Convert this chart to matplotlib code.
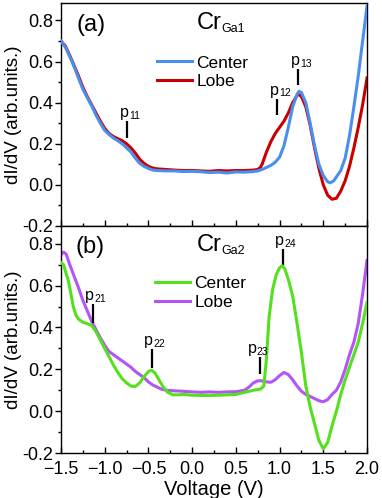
import numpy as np
import matplotlib
matplotlib.use("Agg")
import matplotlib.pyplot as plt
from matplotlib.ticker import MultipleLocator

plt.rcParams["font.family"] = ["Liberation Sans", "DejaVu Sans"]

# ---- panel (a): Cr_Ga1 ----
v_a_center = [-1.5, -1.45, -1.4, -1.35, -1.3, -1.25, -1.2, -1.15, -1.1, -1.05, -1.0, -0.95, -0.9,
              -0.85, -0.8, -0.75, -0.7, -0.65, -0.6, -0.55, -0.5, -0.45, -0.4, -0.3, -0.2, -0.1,
              0.0, 0.1, 0.2, 0.3, 0.4, 0.5, 0.6, 0.7, 0.75, 0.8, 0.85, 0.9, 0.95, 1.0, 1.05, 1.1,
              1.15, 1.2, 1.22, 1.25, 1.3, 1.35, 1.4, 1.45, 1.5, 1.55, 1.58, 1.62, 1.7, 1.75, 1.8,
              1.85, 1.9, 1.95, 2.0]
a_center = [0.70, 0.67, 0.625, 0.575, 0.52, 0.465, 0.425, 0.385, 0.34, 0.30, 0.265, 0.245, 0.228,
            0.215, 0.20, 0.18, 0.16, 0.13, 0.105, 0.09, 0.08, 0.072, 0.07, 0.068, 0.068, 0.065,
            0.066, 0.064, 0.06, 0.062, 0.058, 0.063, 0.062, 0.065, 0.068, 0.075, 0.085, 0.095,
            0.11, 0.135, 0.19, 0.28, 0.38, 0.44, 0.455, 0.45, 0.40, 0.30, 0.19, 0.10, 0.045,
            0.015, 0.01, 0.02, 0.07, 0.13, 0.24, 0.38, 0.53, 0.70, 0.87]

v_a_lobe = [-1.5, -1.45, -1.4, -1.35, -1.3, -1.25, -1.2, -1.15, -1.1, -1.05, -1.0, -0.95, -0.9,
            -0.85, -0.8, -0.75, -0.7, -0.65, -0.6, -0.55, -0.5, -0.45, -0.4, -0.3, -0.2, -0.1,
            0.0, 0.1, 0.2, 0.3, 0.4, 0.5, 0.6, 0.7, 0.75, 0.78, 0.8, 0.85, 0.9, 0.95, 1.0, 1.05,
            1.1, 1.15, 1.2, 1.22, 1.25, 1.3, 1.35, 1.4, 1.45, 1.5, 1.55, 1.6, 1.65, 1.7, 1.75,
            1.8, 1.85, 1.9, 1.95, 2.0]
a_lobe = [0.70, 0.675, 0.63, 0.58, 0.53, 0.475, 0.43, 0.39, 0.35, 0.31, 0.275, 0.25, 0.235,
          0.225, 0.215, 0.20, 0.18, 0.155, 0.125, 0.105, 0.09, 0.082, 0.078, 0.075, 0.072, 0.07,
          0.07, 0.068, 0.066, 0.07, 0.068, 0.07, 0.07, 0.072, 0.075, 0.085, 0.10, 0.16, 0.21,
          0.25, 0.28, 0.31, 0.35, 0.40, 0.435, 0.44, 0.43, 0.38, 0.29, 0.18, 0.08, 0.0, -0.05,
          -0.07, -0.065, -0.03, 0.02, 0.09, 0.18, 0.28, 0.39, 0.52]

# ---- panel (b): Cr_Ga2 ----
v_b_center = [-1.5, -1.47, -1.45, -1.42, -1.4, -1.36, -1.33, -1.3, -1.25, -1.2, -1.15, -1.1,
              -1.05, -1.0, -0.95, -0.9, -0.85, -0.8, -0.75, -0.7, -0.65, -0.6, -0.55, -0.5,
              -0.46, -0.42, -0.38, -0.33, -0.28, -0.22, -0.15, -0.1, 0.0, 0.1, 0.2, 0.3, 0.4,
              0.5, 0.6, 0.7, 0.78, 0.82, 0.85, 0.88, 0.92, 0.96, 1.0, 1.03, 1.06, 1.1, 1.15, 1.2,
              1.25, 1.3, 1.35, 1.4, 1.45, 1.5, 1.55, 1.6, 1.65, 1.7, 1.75, 1.8, 1.85, 1.9, 1.95,
              2.0]
b_center = [0.71, 0.70, 0.67, 0.63, 0.59, 0.50, 0.46, 0.44, 0.425, 0.418, 0.41, 0.38, 0.34,
            0.30, 0.26, 0.22, 0.185, 0.155, 0.135, 0.12, 0.118, 0.135, 0.165, 0.19, 0.195, 0.18,
            0.15, 0.115, 0.09, 0.078, 0.078, 0.08, 0.076, 0.075, 0.075, 0.076, 0.078, 0.08,
            0.09, 0.10, 0.105, 0.12, 0.25, 0.45, 0.58, 0.65, 0.685, 0.695, 0.68, 0.63, 0.55,
            0.42, 0.28, 0.12, 0.02, -0.06, -0.14, -0.18, -0.15, -0.07, 0.0, 0.08, 0.15, 0.21,
            0.27, 0.33, 0.42, 0.52]

v_b_lobe = [-1.5, -1.47, -1.44, -1.4, -1.35, -1.3, -1.25, -1.2, -1.15, -1.1, -1.05, -1.0, -0.95,
            -0.9, -0.85, -0.8, -0.75, -0.7, -0.65, -0.6, -0.55, -0.5, -0.45, -0.4, -0.35, -0.3,
            -0.2, -0.1, 0.0, 0.1, 0.2, 0.3, 0.4, 0.5, 0.6, 0.65, 0.7, 0.75, 0.8, 0.85, 0.9, 0.95,
            1.0, 1.05, 1.1, 1.15, 1.2, 1.25, 1.3, 1.35, 1.4, 1.45, 1.5, 1.55, 1.6, 1.65, 1.7,
            1.75, 1.8, 1.85, 1.9, 1.95, 2.0]
b_lobe = [0.75, 0.76, 0.75, 0.70, 0.645, 0.59, 0.53, 0.48, 0.43, 0.39, 0.35, 0.315, 0.285,
          0.27, 0.255, 0.24, 0.225, 0.21, 0.19, 0.175, 0.16, 0.14, 0.125, 0.115, 0.105, 0.10,
          0.097, 0.095, 0.092, 0.09, 0.092, 0.09, 0.092, 0.093, 0.10, 0.115, 0.135, 0.145,
          0.145, 0.14, 0.138, 0.15, 0.17, 0.185, 0.175, 0.15, 0.12, 0.095, 0.08, 0.07, 0.06,
          0.05, 0.045, 0.055, 0.08, 0.10, 0.14, 0.20, 0.27, 0.33, 0.42, 0.56, 0.72]

# peak markers: (label subscript, voltage, bottom, top)
peaks_a = [("11", -0.74, 0.227, 0.309), ("12", 0.976, 0.34, 0.42), ("13", 1.215, 0.486, 0.565)]
peaks_b = [("21", -1.138, 0.422, 0.513), ("22", -0.462, 0.208, 0.298),
           ("23", 0.775, 0.177, 0.257), ("24", 1.035, 0.694, 0.775)]

c_blue = "#4a8ff0"
c_red = "#c80000"
c_green = "#55e01e"
c_purple = "#b355f5"


def sub_text(ax, x, y, main, sub, size, subsize, coords="data", **kw):
    t = ax.text(x, y, main, fontsize=size, transform=ax.transData if coords == "data" else ax.transAxes,
                ha="left", va="bottom", **kw)
    ax.annotate(sub, xy=(1.0, 0.08), xycoords=t, fontsize=subsize, ha="left", va="baseline")
    return t


def style(ax, show_x):
    ax.set_xlim(-1.5, 2.0)
    ax.set_ylim(-0.2, 0.885)
    ax.xaxis.set_major_locator(MultipleLocator(0.5))
    ax.xaxis.set_minor_locator(MultipleLocator(0.25))
    ax.yaxis.set_major_locator(MultipleLocator(0.2))
    ax.yaxis.set_minor_locator(MultipleLocator(0.1))
    ax.tick_params(axis="y", which="major", direction="out", length=4.5, width=1, pad=1, labelsize=13)
    ax.tick_params(axis="y", which="minor", direction="out", length=2.5, width=1)
    ax.tick_params(axis="x", which="major", direction="in", length=4.5, width=1, pad=6, labelsize=13)
    ax.tick_params(axis="x", which="minor", direction="in", length=2.5, width=1)
    ax.tick_params(axis="x", labelbottom=show_x)
    for s in ax.spines.values():
        s.set_linewidth(1.0)
    ax.set_ylabel("dI/dV (arb.units.)", fontsize=13.5)
    ax.yaxis.set_label_coords(-0.128, 0.5)
    ax.yaxis.set_major_formatter(matplotlib.ticker.FormatStrFormatter("%.1f"))


fig = plt.figure(figsize=(3.82, 4.98), dpi=100)
ax1 = fig.add_axes([61 / 382, 1 - 226 / 498, 306 / 382, 223 / 498])
ax2 = fig.add_axes([61 / 382, 1 - 453 / 498, 306 / 382, 227 / 498])

ax1.plot(v_a_center, a_center, color=c_blue, lw=2.2, label="Center", solid_joinstyle="round", zorder=3)
ax1.plot(v_a_lobe, a_lobe, color=c_red, lw=2.2, label="Lobe", solid_joinstyle="round", zorder=2)
ax2.plot(v_b_center, b_center, color=c_green, lw=2.2, label="Center", solid_joinstyle="round", zorder=3)
ax2.plot(v_b_lobe, b_lobe, color=c_purple, lw=2.2, label="Lobe", solid_joinstyle="round", zorder=2)

style(ax1, False)
style(ax2, True)
ax2.set_xlabel("Voltage (V)", fontsize=14.5, labelpad=1)

for ax, peaks in ((ax1, peaks_a), (ax2, peaks_b)):
    for sub, v, lo, hi in peaks:
        ax.plot([v, v], [lo, hi], color="black", lw=1.6, solid_capstyle="butt")
        dx = -0.14 if sub == "23" else -0.085
        sub_text(ax, v + dx, hi + 0.005, "p", sub, 11.5, 7.5)

ax1.text(0.098, 0.90, "(a)", transform=ax1.transAxes, fontsize=17, ha="center", va="center")
ax2.text(0.095, 0.907, "(b)", transform=ax2.transAxes, fontsize=17, ha="center", va="center")
sub_text(ax1, 0.444, 0.86, "Cr", "Ga1", 17, 9, coords="axes")
sub_text(ax2, 0.444, 0.868, "Cr", "Ga2", 17, 9, coords="axes")

for ax, anchor in ((ax1, (0.315, 0.765)), (ax2, (0.308, 0.78))):
    ax.legend(loc="upper left", bbox_to_anchor=anchor, frameon=False, fontsize=12.5,
              handlelength=2.0, handletextpad=0.25, labelspacing=0.2, borderpad=0, borderaxespad=0)

fig.savefig("out.png", dpi=100)
